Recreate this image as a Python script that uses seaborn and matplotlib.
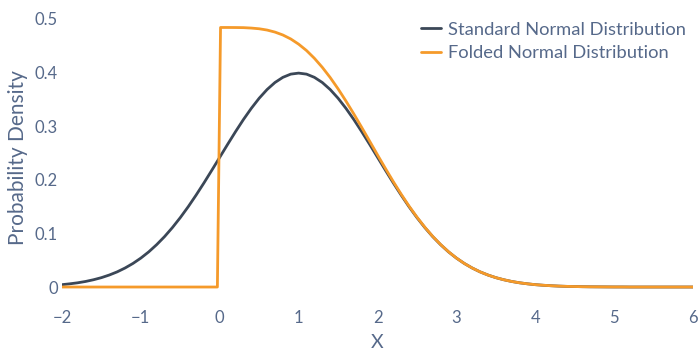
import numpy as np
import pandas as pd
import matplotlib
matplotlib.use("Agg")
import matplotlib.pyplot as plt
import seaborn as sns

# x positions (step 0.1, with two points around the fold at 0)
x_vals = [-2.0, -1.9, -1.8, -1.7, -1.6, -1.5, -1.4, -1.3, -1.2, -1.1,
          -1.0, -0.9, -0.8, -0.7, -0.6, -0.5, -0.4, -0.3, -0.2, -0.1,
          -0.03, 0.01, 0.1, 0.2, 0.3, 0.4, 0.5, 0.6, 0.7, 0.8, 0.9,
          1.0, 1.1, 1.2, 1.3, 1.4, 1.5, 1.6, 1.7, 1.8, 1.9,
          2.0, 2.1, 2.2, 2.3, 2.4, 2.5, 2.6, 2.7, 2.8, 2.9,
          3.0, 3.1, 3.2, 3.3, 3.4, 3.5, 3.6, 3.7, 3.8, 3.9,
          4.0, 4.1, 4.2, 4.3, 4.4, 4.5, 4.6, 4.7, 4.8, 4.9,
          5.0, 5.1, 5.2, 5.3, 5.4, 5.5, 5.6, 5.7, 5.8, 5.9, 6.0]

standard_normal = [0.0044, 0.0060, 0.0079, 0.0104, 0.0136, 0.0175, 0.0224, 0.0283, 0.0355, 0.0440,
                   0.0540, 0.0656, 0.0790, 0.0940, 0.1109, 0.1295, 0.1497, 0.1714, 0.1942, 0.2179,
                   0.2347, 0.2444, 0.2661, 0.2897, 0.3123, 0.3332, 0.3521, 0.3683, 0.3814, 0.3910, 0.3970,
                   0.3989, 0.3970, 0.3910, 0.3814, 0.3683, 0.3521, 0.3332, 0.3123, 0.2897, 0.2661,
                   0.2420, 0.2179, 0.1942, 0.1714, 0.1497, 0.1295, 0.1109, 0.0940, 0.0790, 0.0656,
                   0.0540, 0.0440, 0.0355, 0.0283, 0.0224, 0.0175, 0.0136, 0.0104, 0.0079, 0.0060,
                   0.0044, 0.0033, 0.0024, 0.0017, 0.0012, 0.0009, 0.0006, 0.0004, 0.0003, 0.0002,
                   0.0001, 0.0001, 0.0, 0.0, 0.0, 0.0, 0.0, 0.0, 0.0, 0.0, 0.0]

folded_normal = [0.0, 0.0, 0.0, 0.0, 0.0, 0.0, 0.0, 0.0, 0.0, 0.0,
                 0.0, 0.0, 0.0, 0.0, 0.0, 0.0, 0.0, 0.0, 0.0, 0.0,
                 0.0, 0.4840, 0.4840, 0.4839, 0.4837, 0.4829, 0.4816, 0.4792, 0.4754, 0.4700, 0.4626,
                 0.4529, 0.4410, 0.4265, 0.4097, 0.3907, 0.3696, 0.3468, 0.3227, 0.2976, 0.2721,
                 0.2464, 0.2212, 0.1966, 0.1731, 0.1509, 0.1304, 0.1115, 0.0944, 0.0793, 0.0658,
                 0.0541, 0.0440, 0.0355, 0.0283, 0.0224, 0.0175, 0.0136, 0.0104, 0.0079, 0.0060,
                 0.0044, 0.0033, 0.0024, 0.0017, 0.0012, 0.0009, 0.0006, 0.0004, 0.0003, 0.0002,
                 0.0001, 0.0001, 0.0, 0.0, 0.0, 0.0, 0.0, 0.0, 0.0, 0.0, 0.0]

series_names = ["Standard Normal Distribution", "Folded Normal Distribution"]
series_colors = ["#3b4757", "#f59a2a"]
x_ticks = [-2, -1, 0, 1, 2, 3, 4, 5, 6]
y_ticks = [0, 0.1, 0.2, 0.3, 0.4, 0.5]
y_tick_labels = ["0", "0.1", "0.2", "0.3", "0.4", "0.5"]
x_tick_labels = ["\u22122", "\u22121", "0", "1", "2", "3", "4", "5", "6"]

df = pd.concat([
    pd.DataFrame({"x": x_vals, "y": standard_normal, "series": series_names[0]}),
    pd.DataFrame({"x": x_vals, "y": folded_normal, "series": series_names[1]}),
], ignore_index=True)

sns.set_theme(style="white")
plt.rcParams["font.family"] = ["Lato", "DejaVu Sans"]
text_color = "#56698a"

fig = plt.figure(figsize=(7.0, 3.51), dpi=100)
ax = fig.add_axes([62 / 700, 1 - 301.5 / 351, (693 - 62) / 700, (301.5 - 13) / 351])

sns.lineplot(data=df, x="x", y="y", hue="series", hue_order=series_names,
             palette=series_colors, linewidth=2, sort=False, ax=ax, estimator=None)

ax.set_xlim(-2, 6)
ax.set_ylim(-0.027, 0.511)
for s in ax.spines.values():
    s.set_visible(False)
ax.set_xticks(x_ticks)
ax.set_xticklabels(x_tick_labels)
ax.set_yticks(y_ticks)
ax.set_yticklabels(y_tick_labels)
ax.tick_params(axis="both", length=0, labelsize=12, colors=text_color)
ax.tick_params(axis="x", pad=6)
ax.tick_params(axis="y", pad=3)
ax.grid(False)
ax.set_xlabel("X", fontsize=14, color=text_color, labelpad=6)
ax.set_ylabel("Probability Density", fontsize=15, color=text_color, labelpad=5)

leg = ax.legend(loc="upper right", bbox_to_anchor=(1.0, 0.995), frameon=False,
                fontsize=13.2, handlelength=1.1, handletextpad=0.35, labelspacing=0.42,
                borderaxespad=0.0)
for t in leg.get_texts():
    t.set_color(text_color)

fig.savefig("out.png", dpi=100)
